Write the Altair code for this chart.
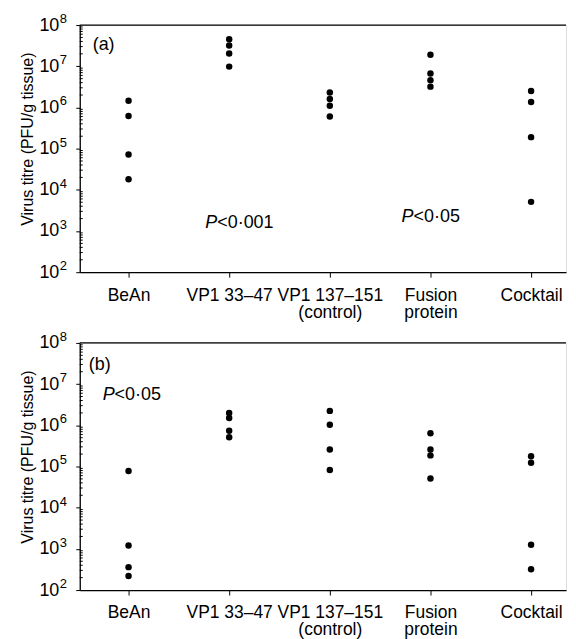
import altair as alt
import pandas as pd

# ---------------- data ----------------
categories = ["BeAn", "VP1 33–47", "VP1 137–151 (control)", "Fusion protein", "Cocktail"]
label_lines = {
    "VP1 137–151 (control)": ["VP1 137–151", "(control)"],
    "Fusion protein": ["Fusion", "protein"],
}

a_bean = [1.45e6, 6.2e5, 7.2e4, 1.8e4]
a_vp33 = [4.5e7, 3.2e7, 2.05e7, 9.8e6]
a_vp137 = [2.3e6, 1.6e6, 1.1e6, 6.0e5]
a_fusion = [1.9e7, 6.7e6, 4.6e6, 3.2e6]
a_cocktail = [2.5e6, 1.35e6, 1.9e5, 5.1e3]

b_bean = [7.8e4, 1.2e3, 3.6e2, 2.2e2]
b_vp33 = [2.0e6, 1.5e6, 7.4e5, 5.1e5]
b_vp137 = [2.24e6, 1.03e6, 2.6e5, 8.2e4]
b_fusion = [6.4e5, 2.6e5, 1.86e5, 5.1e4]
b_cocktail = [1.78e5, 1.23e5, 1.26e3, 3.2e2]

major_ticks = [1e2, 1e3, 1e4, 1e5, 1e6, 1e7, 1e8]
exponents = ["2", "3", "4", "5", "6", "7", "8"]
minor_ticks = [k * 10 ** n for n in range(2, 8) for k in range(2, 10)]

FONT = "Liberation Sans"
W, H = 488, 248

idx = {c: i for i, c in enumerate(categories)}
label_arr = "[" + ", ".join(
    (repr(label_lines[c]) if c in label_lines else repr(c)) for c in categories
) + "]"
x_label_expr = f"{label_arr}[datum.value]"

x_scale = alt.Scale(domain=[-0.485, 4.347], nice=False, zero=False)
y_scale = alt.Scale(type="log", domain=[1e2, 1e8], nice=False)

x_axis = alt.Axis(
    title=None, values=list(range(len(categories))), labelExpr=x_label_expr,
    labelAngle=0, labelFontSize=17.5, labelFont=FONT, labelColor="black",
    labelPadding=9, tickSize=5, labelLineHeight=17, labelBaseline="top",
    domainColor="black", tickColor="black", domainWidth=1.3, grid=False,
)
y_axis = alt.Axis(
    title="Virus titre (PFU/g tissue)", titleFont=FONT, titleFontSize=16,
    titleFontWeight="normal", titleColor="black", titlePadding=3,
    titleY=H / 2 - 10,
    values=major_ticks, labelExpr="'10'", labelFont=FONT,
    labelFontSize=18, labelColor="black", tickSize=4, labelPadding=17,
    domainColor="black", tickColor="black", domainWidth=1.3, grid=False,
)


def panel_df(series):
    rows = []
    for cat, vals in zip(categories, series):
        for v in vals:
            rows.append({"pos": idx[cat], "titre": v})
    return pd.DataFrame(rows)


def annotation(text, cat, val, dx, italic=False):
    d = pd.DataFrame({"pos": [idx[cat]], "titre": [val], "t": [text]})
    return alt.Chart(d).mark_text(
        align="left", baseline="middle", dx=dx, font=FONT, fontSize=18,
        fontStyle="italic" if italic else "normal", color="black",
    ).encode(
        x=alt.X("pos:Q", scale=x_scale),
        y=alt.Y("titre:Q", scale=y_scale),
        text="t:N",
    )


def make_panel(series, annots):
    pts = alt.Chart(panel_df(series)).mark_circle(size=42, color="black", opacity=1).encode(
        x=alt.X("pos:Q", scale=x_scale, axis=x_axis),
        y=alt.Y("titre:Q", scale=y_scale, axis=y_axis),
    )
    minor = alt.Chart(pd.DataFrame({"titre": minor_ticks})).mark_rule(
        color="black", strokeWidth=1
    ).encode(y=alt.Y("titre:Q", scale=y_scale), x=alt.value(0), x2=alt.value(3))
    top = alt.Chart(pd.DataFrame({"titre": [1e8]})).mark_rule(
        color="black", strokeWidth=1.3
    ).encode(y=alt.Y("titre:Q", scale=y_scale))
    sup = alt.Chart(pd.DataFrame({"titre": major_ticks, "e": exponents})).mark_text(
        align="left", baseline="middle", dy=-6, font=FONT, fontSize=13, color="black"
    ).encode(y=alt.Y("titre:Q", scale=y_scale), x=alt.value(-20), text="e:N")
    layers = [pts, minor, top, sup] + [annotation(*a) for a in annots]
    return alt.layer(*layers).properties(width=W, height=H)


panel_a = make_panel(
    [a_bean, a_vp33, a_vp137, a_fusion, a_cocktail],
    [
        ("(a)", "BeAn", 10 ** 7.52, -36),
        ("P", "VP1 33–47", 10 ** 3.2, -24, True),
        ("<0·001", "VP1 33–47", 10 ** 3.2, -12),
        ("P", "Fusion protein", 10 ** 3.33, -29, True),
        ("<0·05", "Fusion protein", 10 ** 3.33, -17),
    ],
)
panel_b = make_panel(
    [b_bean, b_vp33, b_vp137, b_fusion, b_cocktail],
    [
        ("(b)", "BeAn", 10 ** 7.46, -40),
        ("P", "BeAn", 10 ** 6.74, -26, True),
        ("<0·05", "BeAn", 10 ** 6.74, -14),
    ],
)

chart = alt.vconcat(panel_a, panel_b, spacing=9).properties(
    padding={"top": 3, "left": 11, "right": 0, "bottom": 0}
).configure_view(strokeWidth=0).configure(background="white")

chart.save("out.html", embed_options={"renderer": "svg", "actions": False})
